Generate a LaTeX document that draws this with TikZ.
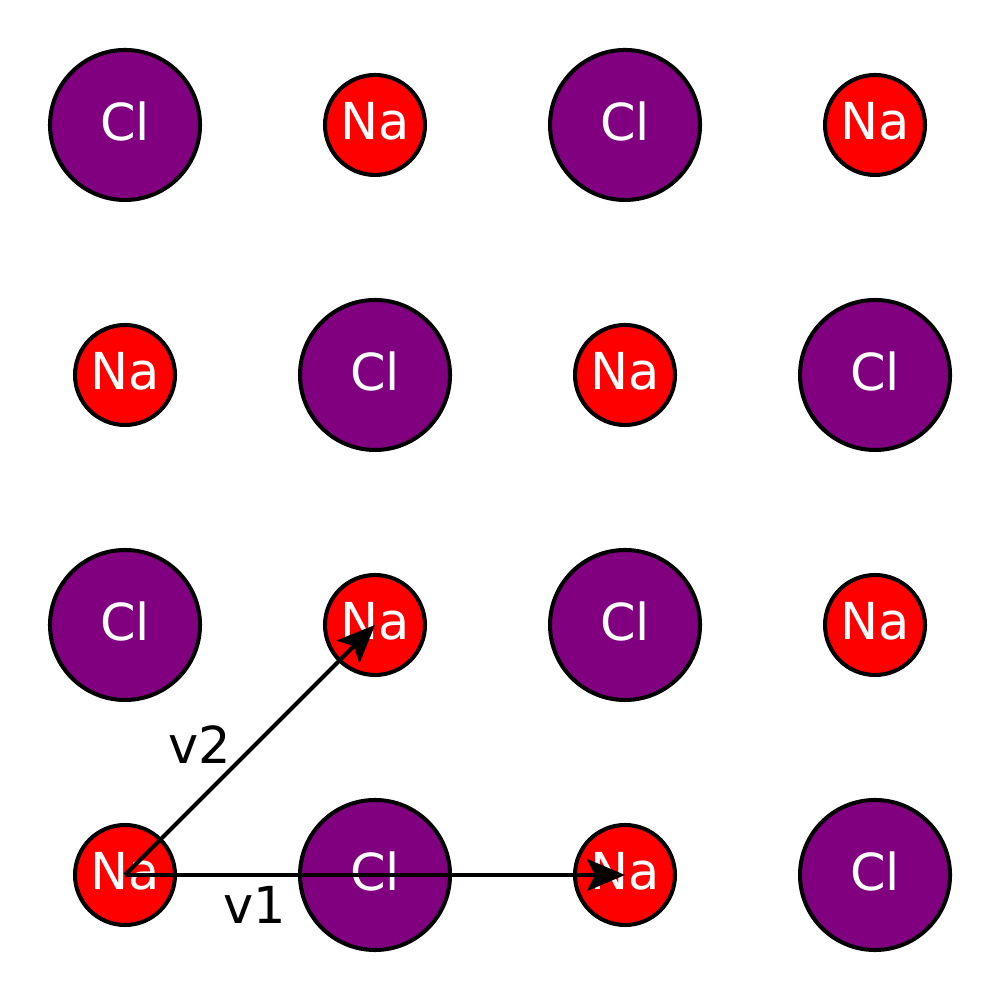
\documentclass[tikz,border=0pt]{standalone}
\usepackage{fontspec}
\setmainfont{DejaVu Sans}
\usetikzlibrary{arrows.meta}
\definecolor{clpurple}{RGB}{128,0,128}
\begin{document}
\begin{tikzpicture}[
  cl/.style={circle, draw=black, line width=1.15pt, fill=clpurple, minimum size=1.5cm, inner sep=0pt, text=white, text depth=0.08cm, font=\fontsize{14.5}{16}\selectfont},
  na/.style={circle, draw=black, line width=1.15pt, fill=red, minimum size=1cm, inner sep=0pt, text=white, text depth=0.08cm, font=\fontsize{14.5}{16}\selectfont},
  vec/.style={line width=1.15pt, -{Stealth[length=0.38cm, width=0.32cm, inset=0.08cm]}},
  lbl/.style={font=\fontsize{14.5}{16}\selectfont}
]
\useasboundingbox (0,0) rectangle (10,10);
% top row
\node[cl] (a11) at (1.25,8.75) {Cl};
\node[na] (a12) at (3.75,8.75) {Na};
\node[cl] (a13) at (6.25,8.75) {Cl};
\node[na] (a14) at (8.75,8.75) {Na};
% second row
\node[na] (a21) at (1.25,6.25) {Na};
\node[cl] (a22) at (3.75,6.25) {Cl};
\node[na] (a23) at (6.25,6.25) {Na};
\node[cl] (a24) at (8.75,6.25) {Cl};
% third row
\node[cl] (a31) at (1.25,3.75) {Cl};
\node[na] (a32) at (3.75,3.75) {Na};
\node[cl] (a33) at (6.25,3.75) {Cl};
\node[na] (a34) at (8.75,3.75) {Na};
% bottom row
\node[na] (a41) at (1.25,1.25) {Na};
\node[cl] (a42) at (3.75,1.25) {Cl};
\node[na] (a43) at (6.25,1.25) {Na};
\node[cl] (a44) at (8.75,1.25) {Cl};
% lattice vectors
\draw[vec] (a41.center) -- (a43.center);
\draw[vec] (a41.center) -- (a32.center);
\node[lbl] (v1) at (2.55,0.95) {v1};
\node[lbl] (v2) at (2.0,2.55) {v2};
\end{tikzpicture}
\end{document}
